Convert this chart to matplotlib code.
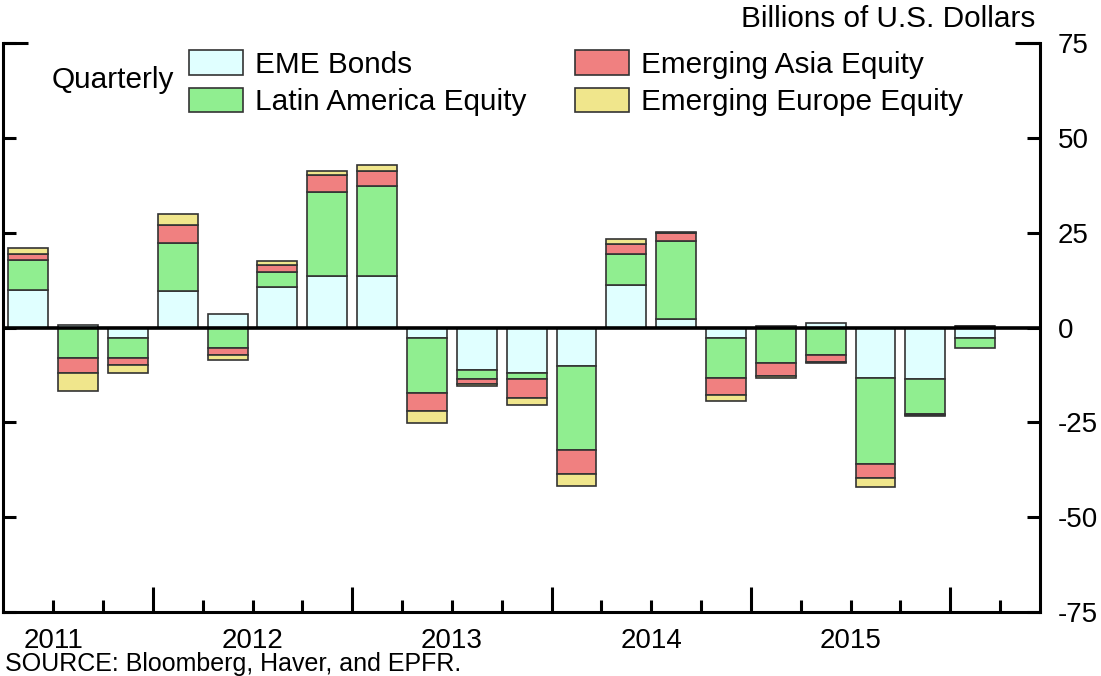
import numpy as np
import matplotlib
matplotlib.use('Agg')
import matplotlib.pyplot as plt

plt.rcParams['font.family'] = ['Liberation Sans', 'DejaVu Sans']
plt.rcParams['axes.unicode_minus'] = False

# quarterly flows, 2011Q2 .. 2016Q1, billions of US dollars
quarters = ['2011Q2', '2011Q3', '2011Q4',
            '2012Q1', '2012Q2', '2012Q3', '2012Q4',
            '2013Q1', '2013Q2', '2013Q3', '2013Q4',
            '2014Q1', '2014Q2', '2014Q3', '2014Q4',
            '2015Q1', '2015Q2', '2015Q3', '2015Q4',
            '2016Q1']
bonds = [10.0, 0.8, -2.7, 9.7, 3.6, 10.7, 13.5, 13.7, -2.7, -11.3,
         -11.9, -10.1, 11.2, 2.2, -2.7, 0.4, 1.3, -13.4, -13.7, -2.7]
latam = [7.7, -8.1, -5.4, 12.7, -5.5, 3.9, 22.2, 23.7, -14.6, -2.3,
         -1.7, -22.2, 8.2, 20.7, -10.7, -9.3, -7.3, -22.6, -9.1, -2.6]
asia = [1.6, -3.8, -1.8, 4.6, -1.8, 1.9, 4.6, 4.0, -4.7, -1.2,
        -4.9, -6.3, 2.7, 2.0, -4.3, -3.5, -1.8, -3.8, -0.2, 0.5]
europe = [1.6, -4.8, -2.0, 3.0, -1.2, 1.0, 1.1, 1.4, -3.2, -0.6,
          -2.0, -3.1, 1.4, 0.3, -1.6, -0.5, -0.2, -2.2, -0.4, 0.0]
years = ['2011', '2012', '2013', '2014', '2015']
series_names = ['EME Bonds', 'Latin America Equity', 'Emerging Asia Equity', 'Emerging Europe Equity']
colors = ['#E0FFFF', '#90EE90', '#F08080', '#F0E68C']

W, H = 1101, 676
fig = plt.figure(figsize=(W / 100, H / 100), dpi=100)
ax = fig.add_axes([3.3 / W, 1 - 611.7 / H, (1040 - 3.3) / W, (611.7 - 43.4) / H])

x = np.arange(len(quarters))
pos_bottom = np.zeros(len(x))
neg_bottom = np.zeros(len(x))
for vals, name, c in zip([bonds, latam, asia, europe], series_names, colors):
    v = np.array(vals)
    bottom = np.where(v >= 0, pos_bottom, neg_bottom)
    ax.bar(x, v, 0.8, bottom=bottom, color=c, edgecolor='#333333', linewidth=1.2, label=name, zorder=2)
    pos_bottom += np.where(v > 0, v, 0)
    neg_bottom += np.where(v < 0, v, 0)

ax.axhline(0, color='black', lw=2.6, zorder=3)

ax.set_xlim(-0.5, 20.3)
ax.set_ylim(-75, 75)

# spines
for s in ['left', 'right', 'bottom']:
    ax.spines[s].set_linewidth(2.2)
ax.spines['top'].set_visible(False)

# y ticks on right, inward on both sides
ax.set_yticks(np.arange(-75, 76, 25))
ax.yaxis.set_ticks_position('both')
ax.tick_params(axis='y', direction='in', length=9.4, width=2.2, labelleft=False, labelright=True,
               labelsize=20, pad=13)

# x: long ticks at year boundaries, short at quarter boundaries
year_start = [i for i, q in enumerate(quarters) if q.endswith('Q1')]
ax.set_xticks([i - 0.5 for i in year_start])
ax.set_xticks([i + 0.5 for i in range(len(quarters))], minor=True)
ax.tick_params(axis='x', which='major', direction='in', length=18, width=2.2, labelbottom=False)
ax.tick_params(axis='x', which='minor', direction='in', length=8.6, width=2.2, labelbottom=False)

for yr in years:
    idx = [i for i, q in enumerate(quarters) if q.startswith(yr)]
    first_q = int(quarters[idx[0]][-1])
    center = idx[0] - (first_q - 1) + 1.5
    ax.text(center, -(648 - 611.7) / 568.3, yr, transform=ax.get_xaxis_transform(),
            ha='center', va='baseline', fontsize=20)

# longer corner ticks at the top
for xs in ([0, 25 / 1036.7], [1 - 25 / 1036.7, 1]):
    ax.plot(xs, [1, 1], transform=ax.transAxes, color='black', lw=2.2, clip_on=False, solid_capstyle='butt')

leg = fig.legend(loc='upper left', bbox_to_anchor=(189 / W, 1 - 50 / H), ncol=2, frameon=False,
                 fontsize=21.4, handlelength=1.82, handleheight=0.91, handletextpad=0.4,
                 columnspacing=1.65, labelspacing=0.3, borderpad=0, borderaxespad=0)
for p in leg.get_patches():
    p.set_linewidth(1.2)

fig.text(52 / W, 1 - 88 / H, 'Quarterly', fontsize=21.4, va='baseline', ha='left')
fig.text(1035 / W, 1 - 27 / H, 'Billions of U.S. Dollars', fontsize=21.4, va='baseline', ha='right')
fig.text(5 / W, 1 - 671 / H, 'SOURCE: Bloomberg, Haver, and EPFR.', fontsize=18, va='baseline', ha='left')

plt.savefig('out.png', dpi=100)
